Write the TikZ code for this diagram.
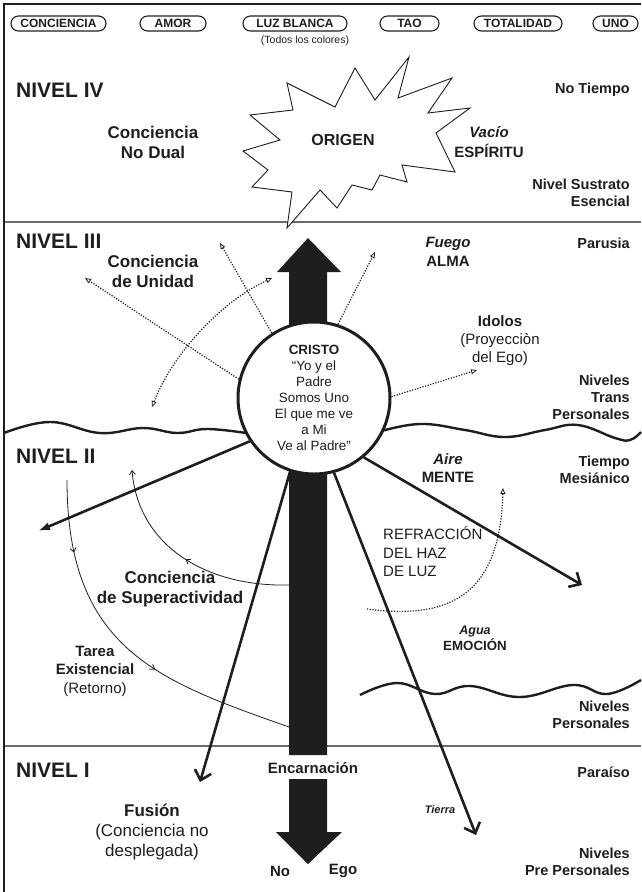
\documentclass[tikz,border=0pt]{standalone}
\usepackage{fontspec}
\setmainfont{Liberation Sans}
\usetikzlibrary{arrows.meta,decorations.markings}
\definecolor{ink}{HTML}{1E1E1E}
\definecolor{rule}{HTML}{6A6A6A}
\newcommand{\fsz}[2]{\fontsize{#1}{#2}\selectfont}
\begin{document}
\begin{tikzpicture}[x=1pt,y=-1pt,
  every node/.style={text=ink, inner sep=0pt},
  pill/.style={draw=ink, line width=1.1pt, rounded corners=7.5pt, minimum height=15pt, font=\fsz{12}{14}\bfseries},
  lvl/.style={anchor=west, font=\fsz{21}{24}\bfseries},
  side/.style={anchor=east, align=right, font=\fsz{14.5}{17}\bfseries},
  head/.style={align=center, font=\fsz{17}{20}\bfseries},
  lbl/.style={align=center, font=\fsz{15}{18.5}\bfseries},
  beam/.style={draw=ink, line width=2.6pt},
  barb/.style={-{Straight Barb[length=9pt,width=17pt]}},
  dots/.style={draw=ink, line width=1.2pt, dash pattern=on 1.2pt off 1.5pt},
  dothead/.style={-{Triangle[open,length=6pt,width=5pt,line width=0.8pt]}},
  thinarc/.style={draw=ink, line width=0.8pt},
  smallbarb/.style={-{Straight Barb[length=4pt,width=6pt]}},
  wave/.style={draw=ink, line width=2.4pt},
  burst/.style={draw=ink, line width=0.9pt, fill=white},
]
\useasboundingbox (0,0) rectangle (641,892);

% frame and level separators
\draw[rule, line width=1.3pt] (4,222) -- (641,222);
\draw[rule, line width=1.3pt] (4,746) -- (641,746);
\draw[ink, line width=2.5pt] (4,892) -- (4,4) -- (641,4);

% origin burst
\draw[burst] (409,57) -- (398,98) -- (452,78) -- (428,113) -- (470,108) -- (436,133)
  -- (455,172) -- (402,165) -- (407,182) -- (380,175) -- (372,190) -- (352,185)
  -- (337,208) -- (320,190) -- (287,228) -- (292,192) -- (252,187) -- (268,170)
  -- (243,151) -- (280,140) -- (250,115) -- (293,110) -- (287,83) -- (335,107)
  -- (355,68) -- (375,100) -- cycle;

% thin return arcs
\coordinate (t1) at (67,480);
\coordinate (t2) at (289,727);
\draw[thinarc, postaction={decorate}, decoration={markings,
    mark=at position 0.2 with {\arrow{Straight Barb[length=4pt,width=6pt]}},
    mark=at position 0.6 with {\arrow{Straight Barb[length=4pt,width=6pt]}}}]
  (t1) .. controls (67,650) and (159,681) .. (t2);
\coordinate (s1) at (289,585);
\coordinate (s2) at (132,470);
\draw[thinarc, smallbarb, postaction={decorate}, decoration={markings,
    mark=at position 0.5 with {\arrow{Straight Barb[length=4pt,width=6pt]}}}]
  (s1) .. controls (205,587) and (138,545) .. (s2);

% central beam: rising arrow and descending arrow
\fill[ink] (289,272) -- (277,272) -- (308,238) -- (341,272) -- (327,272)
  -- (327,755) -- (289,755) -- cycle;
\fill[ink] (289,779) -- (327,779) -- (327,832) -- (342,832) -- (308,864)
  -- (276,832) -- (289,832) -- cycle;

% wavy boundaries
\draw[wave] plot[smooth, tension=0.7] coordinates {(4,433) (50,422) (100,433) (143,428) (177,433) (207,429) (246,433)};
\draw[wave] plot[smooth, tension=0.7] coordinates {(378,432) (420,424) (465,430) (505,437) (545,430) (578,425) (615,438) (630,440) (641,432)};
\draw[wave] plot[smooth, tension=0.7] coordinates {(360,695) (397,683) (435,694) (470,686) (520,697) (573,685) (607,694) (641,680)};

% Cristo circle
\node[circle, draw=ink, line width=3pt, fill=white, minimum size=152pt, align=center, font=\fsz{13.4}{16}] (cristo) at (314,398)
  {\textbf{CRISTO}\\“Yo y el\\Padre\\Somos Uno\\El que me ve\\a Mi\\Ve al Padre”};

% solid rays
\coordinate (tipW) at (38,531);
\coordinate (tipSW) at (200,782);
\coordinate (tipSE) at (476,835);
\coordinate (tipE) at (582,585);
\draw[beam, -{Latex[length=12pt,width=8pt]}] (cristo.214) -- (tipW);
\draw[beam, barb] (cristo.252) -- (tipSW);
\draw[beam, barb] (cristo.285) -- (tipSE);
\draw[beam, barb] (cristo.310) -- (tipE);

% dotted rays
\coordinate (d1) at (85,278);
\coordinate (d2) at (220,243);
\coordinate (d4) at (375,252);
\coordinate (d5) at (477,370);
\draw[dots, dothead] (cristo.166) -- (d1);
\draw[dots, dothead] (cristo.123) -- (d2);
\draw[dots, dothead] (cristo.72) -- (d4);
\draw[dots, dothead] (cristo.1) -- (d5);
\coordinate (a1) at (152,407);
\coordinate (a2) at (272,278);
\draw[dots, {Triangle[open,length=6pt,width=5pt,line width=0.8pt]}-{Triangle[open,length=6pt,width=5pt,line width=0.8pt]}]
  (a1) .. controls (170,360) and (215,305) .. (a2);
\coordinate (r1) at (367,609);
\coordinate (r2) at (503,488);
\draw[dots, dothead] (r1) .. controls (450,620) and (500,595) .. (r2);

% top concepts
\node[pill, minimum width=95pt] (p1) at (58.5,23.5) {CONCIENCIA};
\node[pill, minimum width=66pt] (p2) at (173,23.5) {AMOR};
\node[pill, minimum width=104pt] (p3) at (295,23.5) {LUZ BLANCA};
\node[pill, minimum width=59pt] (p4) at (409.5,23.5) {TAO};
\node[pill, minimum width=88pt] (p5) at (518,23.5) {TOTALIDAD};
\node[pill, minimum width=45pt] (p6) at (615.5,23.5) {UNO};
\node[font=\fsz{10.5}{12}] (todos) at (305,41) {(Todos los colores)};

% level titles
\node[lvl] (n4) at (16,90) {NIVEL IV};
\node[lvl] (n3) at (16,241) {NIVEL III};
\node[lvl] (n2) at (16,456) {NIVEL II};
\node[lvl] (n1) at (16,770) {NIVEL I};

% right-hand column
\node[side] (notiempo) at (630,90) {No Tiempo};
\node[side] (sustrato) at (630,193) {Nivel Sustrato\\Esencial};
\node[side] (parusia) at (630,243) {Parusia};
\node[side] (trans) at (630,397) {Niveles\\Trans\\Personales};
\node[side] (mesianico) at (630,470) {Tiempo\\Mesiánico};
\node[side] (personales) at (630,715) {Niveles\\Personales};
\node[side] (paraiso) at (630,772) {Paraíso};
\node[side] (prepers) at (630,862) {Niveles\\Pre Personales};

% labels inside the levels
\node[head] (nodual) at (153,142) {Conciencia\\No Dual};
\node[font=\fsz{16}{19}\bfseries] (origen) at (343,140) {ORIGEN};
\node[align=center, font=\fsz{15}{20}\bfseries] (espiritu) at (489,142) {\textit{Vacío}\\ESPÍRITU};
\node[head] (unidad) at (153,271) {Conciencia\\de Unidad};
\node[align=center, font=\fsz{15}{19}\bfseries] (alma) at (448,252) {\textit{Fuego}\\ALMA};
\node[align=center, font=\fsz{15}{18}] (idolos) at (500,341) {\textbf{Idolos}\\(Proyecciòn\\del Ego)};
\node[lbl] (mente) at (448,468) {\textit{Aire}\\MENTE};
\node[align=left, anchor=west, font=\fsz{15}{18.5}] (refr) at (383,552) {REFRACCIÓN\\DEL HAZ\\DE LUZ};
\node[head] (superact) at (170,589) {Conciencia\\de Superactividad};
\node[align=center, font=\fsz{13.3}{16}\bfseries] (emocion) at (475,638) {{\fsz{12.5}{16}\itshape Agua}\\EMOCIÓN};
\node[align=center, font=\fsz{15}{18.5}] (tarea) at (95,671) {\textbf{Tarea}\\\textbf{Existencial}\\(Retorno)};
\node[font=\fsz{15}{18}\bfseries] (encarn) at (313,768) {Encarnación};
\node[align=center, font=\fsz{17}{20}] (fusion) at (152,832) {\textbf{Fusión}\\(Conciencia no\\desplegada)};
\node[font=\fsz{11}{13}\bfseries\itshape] (tierra) at (440,810) {Tierra};
\node[font=\fsz{15}{18}\bfseries] (no) at (280,871) {No};
\node[font=\fsz{15}{18}\bfseries] (ego) at (343,871) {Ego};
\end{tikzpicture}
\end{document}
